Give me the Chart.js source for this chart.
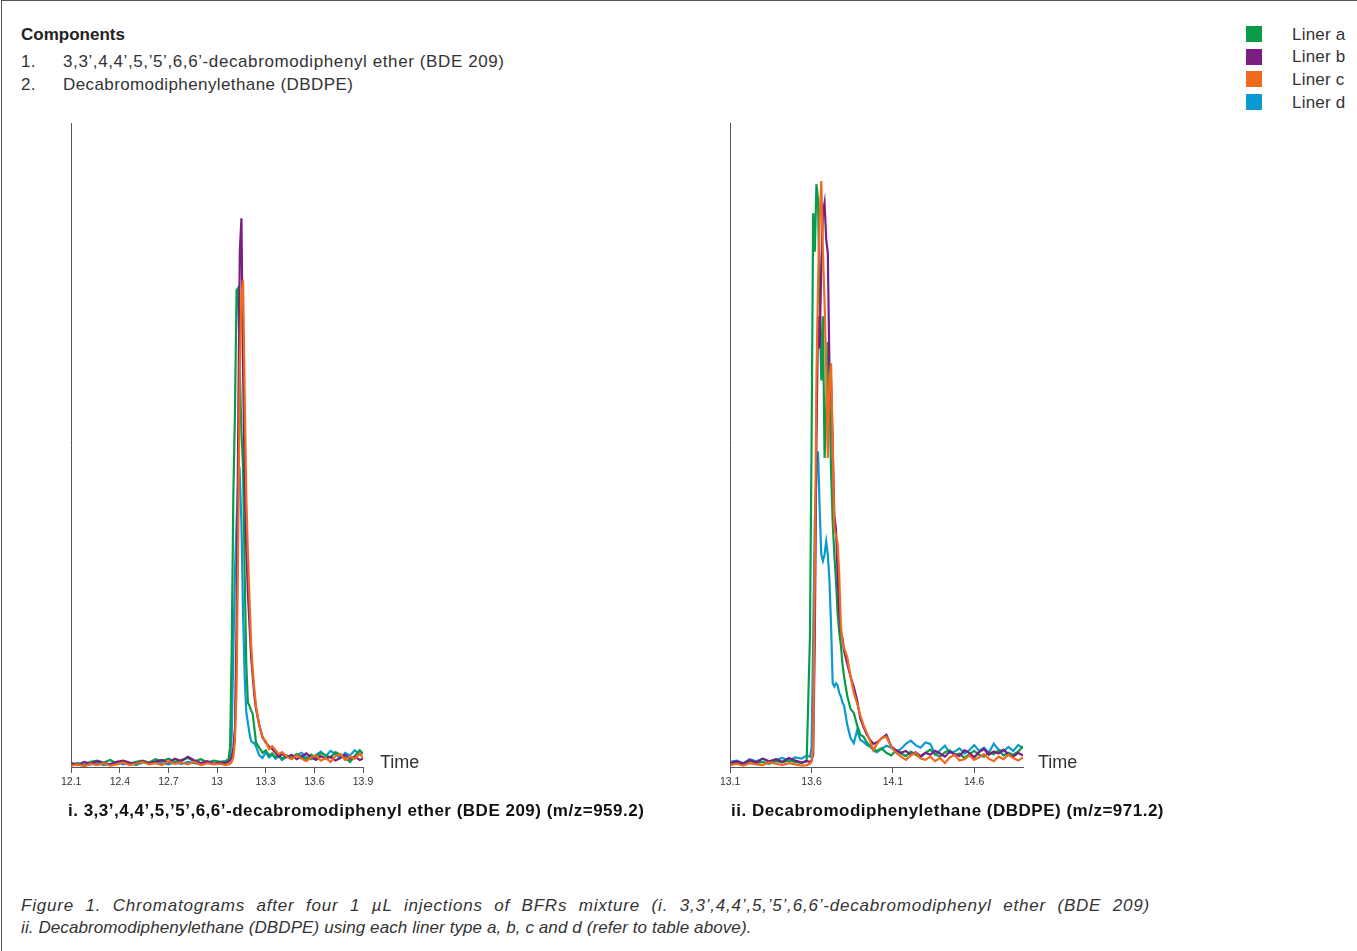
<!DOCTYPE html>
<html>
<head>
<meta charset="utf-8">
<script src="https://cdn.jsdelivr.net/npm/chart.js@4/dist/chart.umd.min.js"></script>
<style>
  body { margin: 0; width: 1357px; height: 951px; position: relative; background: #fff;
         font-family: "Liberation Sans", Arial, sans-serif; color: #222; overflow: hidden; }
  .frame { position: absolute; left: 1px; top: 0; width: 1356px; height: 951px;
           border-left: 1px solid #555; border-top: 1px solid #555; box-sizing: border-box; }
  .t { position: absolute; white-space: nowrap; line-height: 1; }
  .hd { font-size: 17px; color: #333; letter-spacing: 0.2px; }
  .sub { font-size: 17px; font-weight: bold; letter-spacing: 0.5px; color: #111; }
  .cap { font-size: 17px; font-style: italic; color: #333; }
  .box { position: absolute; }
  .sq { position: absolute; width: 16px; height: 16px; }
</style>
</head>
<body>
<div class="frame"></div>

<div class="t" style="left:21px; top:26px; font-size:17px; font-weight:bold;">Components</div>
<div class="t hd" style="left:21px; top:53px;">1.</div>
<div class="t hd" style="left:63px; top:53px; letter-spacing:0.6px;">3,3’,4,4’,5,’5’,6,6’-decabromodiphenyl ether (BDE 209)</div>
<div class="t hd" style="left:21px; top:76px;">2.</div>
<div class="t hd" style="left:63px; top:76px; letter-spacing:0.4px;">Decabromodiphenylethane (DBDPE)</div>

<div class="sq" style="left:1246px; top:26px; background:#0a9b48;"></div>
<div class="sq" style="left:1246px; top:49px; background:#7a1e82;"></div>
<div class="sq" style="left:1246px; top:71px; background:#f06a1e;"></div>
<div class="sq" style="left:1246px; top:94px; background:#0a9ad0;"></div>
<div class="t hd" style="left:1292px; top:26px;">Liner a</div>
<div class="t hd" style="left:1292px; top:48px;">Liner b</div>
<div class="t hd" style="left:1292px; top:71px;">Liner c</div>
<div class="t hd" style="left:1292px; top:94px;">Liner d</div>

<div class="box" style="left:58px; top:113px;"><canvas id="bdeChart" width="323" height="694"></canvas></div>
<div class="box" style="left:717px; top:113px;"><canvas id="dbdpeChart" width="324" height="694"></canvas></div>

<div class="t" style="left:380px; top:753px; font-size:18px; color:#333;">Time</div>
<div class="t" style="left:1038px; top:753px; font-size:18px; color:#333;">Time</div>

<div class="t sub" style="left:68px; top:802px;">i. 3,3’,4,4’,5,’5’,6,6’-decabromodiphenyl ether (BDE 209) (m/z=959.2)</div>
<div class="t sub" style="left:731px; top:802px;">ii. Decabromodiphenylethane (DBDPE) (m/z=971.2)</div>

<div class="t cap" style="left:21px; top:897px; width:1129px; letter-spacing:0.8px; text-align:justify; text-align-last:justify;">Figure 1. Chromatograms after four 1 µL injections of BFRs mixture (i. 3,3’,4,4’,5,’5’,6,6’-decabromodiphenyl ether (BDE 209)</div>
<div class="t cap" style="left:21px; top:919px; letter-spacing:0.1px;">ii. Decabromodiphenylethane (DBDPE) using each liner type a, b, c and d (refer to table above).</div>

<script>
// liner names / colours
const liners = ['Liner a', 'Liner b', 'Liner c', 'Liner d'];
const linerColors = ['#0a9b48', '#7a1e82', '#f06a1e', '#0a9ad0'];

// --- i. BDE 209 (m/z=959.2) ---
const bdeTicks = [12.1, 12.4, 12.7, 13, 13.3, 13.6, 13.9];
const bdeTime = [12.10,12.14,12.18,12.22,12.26,12.30,12.34,12.38,12.42,12.46,12.50,12.54,12.58,12.62,12.66,12.70,12.74,12.78,12.82,12.86,12.90,12.94,12.98,13.02,
  13.05,13.07,
  13.08,13.09,13.10,13.11,13.12,13.13,13.14,13.15,13.16,13.17,13.18,13.19,13.20,13.21,13.22,13.23,13.24,
  13.26,13.28,13.30,13.32,13.34,13.36,13.38,13.40,
  13.43,13.46,13.49,13.52,13.55,13.58,13.61,13.64,13.67,13.70,13.73,13.76,13.79,13.82,13.85,13.88,13.90];
const bdeA = [0.4,0.6,0.3,0.8,1.0,0.7,1.1,0.6,0.9,0.5,0.8,1.0,0.7,1.2,0.9,1.3,0.8,1.1,1.4,0.9,1.2,0.7,1.0,0.8,
  0.9,1.2,
  3,18,42,55,74,74.4,62,52,46.6,30,16,10,9.5,8.8,8.2,6,3.8,
  3.0,2.2,2.6,1.8,2.1,1.5,1.9,1.3,
  1.8,1.4,2.0,1.6,1.2,1.9,1.4,2.2,1.8,1.5,2.3,1.9,1.4,0.8,1.7,2.6,2.0];
const bdeB = [0.6,0.3,0.8,0.5,0.9,0.6,0.4,0.8,1.0,0.7,0.5,0.9,0.6,0.8,1.1,0.7,1.3,0.9,1.6,1.0,0.6,0.9,0.5,0.7,
  0.6,0.8,
  1.0,1.5,3,6,22,52,80,85.2,62,45,34,27,22,17,14,11,9,
  6.5,4.7,3.8,3.2,2.8,2.2,1.6,2.0,
  1.5,1.9,1.2,1.6,2.1,1.5,1.1,1.7,1.3,1.6,1.0,1.4,1.9,1.3,1.6,1.1,1.3];
const bdeC = [0.2,0.4,0.1,0.5,0.3,0.6,0.2,0.4,0.7,0.3,0.5,0.8,0.4,0.6,0.3,0.9,0.5,0.7,0.4,0.8,0.3,0.6,0.4,0.5,
  0.3,0.4,
  0.5,0.8,1.5,4,12,35,62,73,75.6,58,42,33,26,19,15,12,9.5,
  6.5,4.5,4.0,2.8,3.2,2.6,2.0,2.3,
  1.6,1.2,1.8,1.3,0.9,1.5,1.8,1.0,1.4,0.8,1.7,2.0,1.1,1.6,1.3,2.1,1.4];
const bdeD = [0.3,0.5,0.2,0.4,0.6,0.3,0.5,0.8,0.4,0.6,0.3,0.7,0.5,0.9,0.6,0.4,0.7,0.5,0.8,0.6,0.4,0.7,0.5,0.6,
  0.7,0.9,
  1.5,5,18,30,38,44,45.3,38,24,14,8.5,6.8,5.2,4.0,3.8,3.7,3.2,
  1.8,1.4,2.3,1.5,1.9,1.3,1.7,1.1,
  1.6,1.3,1.8,2.2,1.5,1.2,1.9,2.4,1.7,2.5,2.0,1.4,2.2,1.8,2.6,1.9,2.3];

// --- ii. DBDPE (m/z=971.2) ---
const dbdpeTicks = [13.1, 13.6, 14.1, 14.6];
const dbdpeTime = [13.10,13.14,13.18,13.22,13.26,13.30,13.34,13.38,13.42,13.46,13.50,13.54,13.57,13.59,
  13.60,13.61,13.62,13.63,13.64,13.65,13.66,13.67,13.68,13.69,13.70,13.71,13.72,13.73,13.74,13.75,13.76,13.77,13.78,13.79,13.80,
  13.82,13.84,13.86,13.88,13.90,13.92,13.94,13.96,13.98,14.00,
  14.03,14.06,14.09,14.12,14.15,14.18,14.21,14.24,14.27,14.30,14.33,14.36,14.39,14.42,14.45,
  14.48,14.51,14.54,14.57,14.60,14.63,14.66,14.69,14.72,14.75,14.78,14.81,14.84,14.87,14.90];
const dbdpeA = [0.5,0.7,0.4,0.9,0.6,0.8,0.5,0.9,0.7,1.0,0.8,0.6,1.0,20,
  50,86,80,90.5,88,72,60,70,48,55,66,58,46,38,33,29,24,21,19,16,14,
  11,9,8.4,6.5,5,4.7,3.8,3.2,2.8,2.5,
  2.9,2.2,1.8,2.6,2.1,1.7,2.4,1.9,1.5,2.2,2.7,2.0,1.6,2.3,2.6,
  1.8,2.1,1.4,2.0,2.5,1.9,1.6,2.3,2.0,2.6,1.8,2.2,1.9,2.4,3.2];
const dbdpeB = [0.6,0.9,0.5,1.1,0.7,1.3,0.9,1.2,0.8,1.4,1.0,0.7,0.9,0.8,
  1.0,2,20,50,70,65,78,86,87.6,82,79.8,62,60,50,39,37,30,24,21,20,18,
  16,14,12.4,10.4,7.5,6.2,5,4.2,3.6,3.8,
  4.4,5.0,3.2,2.6,2.2,2.5,1.9,2.3,1.7,2.2,1.9,2.5,2.1,1.6,2.4,
  2.0,1.7,2.6,2.2,1.5,2.3,2.8,1.9,2.4,2.1,2.7,2.0,1.6,2.2,1.8];
const dbdpeC = [0.3,0.5,0.2,0.6,0.4,0.3,0.7,0.5,0.3,0.6,0.4,0.2,0.3,0.5,
  0.8,3,30,60,75,85,91,80,72,62,48,60,62.7,50,37,36,34.8,30,22,19.3,18.5,
  17,14,11.5,9.9,8,6.5,5.3,4,2.6,3.5,
  4.5,4.7,3.1,2.2,1.6,1.1,1.8,2.2,1.3,1.1,1.6,0.9,1.4,0.6,1.5,
  1.9,1.0,1.2,1.8,1.1,1.5,2.0,1.3,0.9,1.6,1.2,1.9,1.4,1.0,1.5];
const dbdpeD = [0.8,1.0,0.6,1.2,0.9,1.3,0.8,1.1,1.4,1.0,1.5,1.3,1.8,1.6,
  3,20,38,46,49,40,33,32,33,35,33,29,22,13,12.5,13,12.7,11.5,11,10,9.5,
  6.5,4.5,3.7,5.7,4.2,3.9,3.4,3.2,2.6,2.3,
  2.8,3.3,3.0,2.4,2.8,3.6,4.1,3.4,3.0,3.8,3.6,1.9,2.6,3.3,2.2,
  2.4,2.9,2.1,2.6,3.4,2.5,3.0,2.2,3.6,2.7,2.4,3.1,2.5,3.4,3.0];

// orange on top, blue at the bottom
const drawOrder = [2, 1, 0, 3];

function createChromatogram(canvasId, times, series, ticks, xMin, xMax) {
    const ctx = document.getElementById(canvasId).getContext('2d');
    const datasets = series.map((vals, i) => ({
        label: liners[i],
        data: times.map((t, j) => ({ x: t, y: vals[j] })),
        borderColor: linerColors[i],
        borderWidth: 2.2,
        pointRadius: 0,
        tension: 0,
        fill: false,
        order: drawOrder[i]
    }));

    new Chart(ctx, {
        type: 'line',
        data: { datasets: datasets },
        options: {
            responsive: false,
            animation: false,
            layout: { padding: { left: 10, right: 18, top: 10, bottom: 0 } },
            plugins: {
                legend: { display: false },
                tooltip: { enabled: false }
            },
            scales: {
                x: {
                    type: 'linear',
                    min: xMin,
                    max: xMax,
                    afterBuildTicks: s => { s.ticks = ticks.map(v => ({ value: v })); },
                    afterFit: s => { s.height = 40; },
                    grid: { display: true, drawOnChartArea: false, drawTicks: true, tickLength: 6, color: '#555' },
                    border: { display: true, color: '#555', width: 1 },
                    ticks: {
                        autoSkip: false,
                        maxRotation: 0,
                        padding: 3,
                        color: '#333',
                        font: { size: 10.5, family: 'Liberation Sans' },
                        callback: v => String(v)
                    }
                },
                y: {
                    min: 0,
                    max: 100,
                    afterFit: s => { s.width = 0; },
                    ticks: { display: false },
                    grid: { display: false },
                    border: { display: true, color: '#555', width: 1 }
                }
            }
        }
    });
}

createChromatogram('bdeChart', bdeTime, [bdeA, bdeB, bdeC, bdeD], bdeTicks, 12.1, 13.9);
createChromatogram('dbdpeChart', dbdpeTime, [dbdpeA, dbdpeB, dbdpeC, dbdpeD], dbdpeTicks, 13.1, 14.9);
</script>
</body>
</html>
